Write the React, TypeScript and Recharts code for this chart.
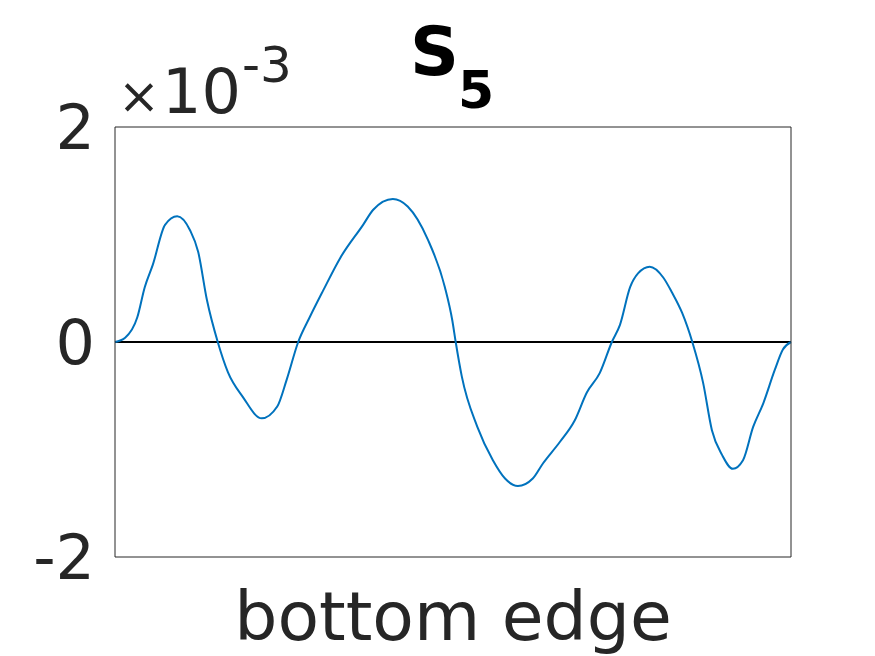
import { LineChart, Line, XAxis, YAxis, ReferenceLine } from "recharts";

// x position along the edge (0-100), value in units of 1e-3
const xPos = [
  0, 1.5, 3.3, 4.4, 5.6, 7.4, 9.2, 11.1, 12.3, 13.6, 15.2, 16.7, 18.9, 21.7, 24.0,
  25.4, 27.1, 28.8, 30.8, 33.3, 36.7, 38.2, 41.1, 43.3, 46.3, 48.8, 49.9, 50.4,
  51.3, 53.6, 55.9, 57.7, 59.6, 61.8, 63.3, 65.8, 68.0, 69.8, 71.7, 73.5, 74.7,
  76.2, 77.4, 79.1, 81.1, 82.4, 83.9, 85.4, 87.0, 88.3, 89.8, 91.4, 92.9, 94.4,
  95.9, 97.6, 98.8, 100,
];
const s5 = [
  0, 0.04, 0.23, 0.51, 0.72, 1.09, 1.17, 1.04, 0.84, 0.39, 0, -0.28, -0.51, -0.71,
  -0.6, -0.35, 0, 0.23, 0.48, 0.78, 1.09, 1.23, 1.33, 1.26, 0.95, 0.51, 0.2, 0,
  -0.32, -0.79, -1.1, -1.27, -1.34, -1.27, -1.13, -0.93, -0.73, -0.47, -0.29, 0,
  0.16, 0.51, 0.64, 0.7, 0.6, 0.46, 0.27, 0, -0.38, -0.82, -1.05, -1.18, -1.1,
  -0.79, -0.57, -0.26, -0.07, 0,
];
const yTicks = [-2, 0, 2];

const data = xPos.map((x, i) => ({ x, v: s5[i] }));

const font = "'DejaVu Sans', sans-serif";
const axisColor = "#262626";

export default function App() {
  return (
    <div style={{ position: "absolute", left: 0, top: 0, width: 875, height: 656, background: "#fff" }}>
      <LineChart
        width={875}
        height={656}
        data={data}
        margin={{ top: 0, right: 0, bottom: 0, left: 0 }}
      >
        <XAxis
          dataKey="x"
          type="number"
          domain={[0, 100]}
          ticks={[]}
          height={99}
          axisLine={{ stroke: axisColor }}
          tickLine={false}
          label={{
            value: "bottom edge",
            position: "insideBottom",
            offset: 16,
            fill: axisColor,
            fontSize: 68,
            fontFamily: font,
          }}
        />
        <XAxis
          xAxisId="top"
          orientation="top"
          dataKey="x"
          type="number"
          domain={[0, 100]}
          ticks={[]}
          height={127}
          axisLine={{ stroke: axisColor }}
          tickLine={false}
        />
        <YAxis
          type="number"
          domain={[-2, 2]}
          ticks={yTicks}
          width={115}
          axisLine={{ stroke: axisColor }}
          tickLine={false}
          tickMargin={14}
          tick={{ fill: axisColor, fontSize: 62, fontFamily: font }}
        />
        <YAxis
          yAxisId="right"
          orientation="right"
          type="number"
          domain={[-2, 2]}
          ticks={[]}
          width={84}
          axisLine={{ stroke: axisColor }}
          tickLine={false}
        />
        <ReferenceLine y={0} stroke="#000" strokeWidth={2} />
        <Line
          type="monotone"
          dataKey="v"
          stroke="#0072BD"
          strokeWidth={2}
          dot={false}
          isAnimationActive={false}
        />
      </LineChart>
      <svg
        width={875}
        height={130}
        style={{ position: "absolute", left: 0, top: 0, pointerEvents: "none" }}
      >
        <text x={410} y={75} fontFamily={font} fontWeight="bold" fontSize={68} fill="#000">
          S
        </text>
        <text x={458} y={108} fontFamily={font} fontWeight="bold" fontSize={52} fill="#000">
          5
        </text>
        <text x={118} y={113} fontFamily={font} fontSize={50} fill={axisColor}>
          ×
        </text>
        <text x={162} y={113} fontFamily={font} fontSize={62} fill={axisColor}>
          10
        </text>
        <text x={242} y={82} fontFamily={font} fontSize={50} fill={axisColor}>
          -3
        </text>
      </svg>
    </div>
  );
}
